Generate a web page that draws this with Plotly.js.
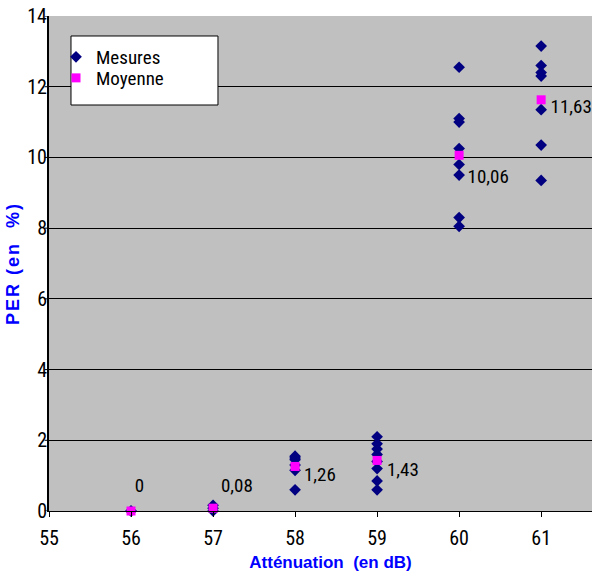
<!DOCTYPE html>
<html><head><meta charset="utf-8">
<script src="https://cdn.plot.ly/plotly-3.0.1.min.js"></script>
<style>
html,body{margin:0;padding:0;background:#fff;}
#chart{width:592px;height:577px;}
#chart text{font-stretch:condensed;}
#chart .g-xtitle text,#chart .g-ytitle text{font-stretch:normal;}
#chart .g-ytitle text{letter-spacing:2px;}
#chart .g-xtitle{transform:translate(10px,3px);}
#chart .g-ytitle{transform:translate(4px,0px) !important;}
#chart .yaxislayer-above{transform:translate(4px,0px);}
</style>
</head><body><div id="chart"></div>
<script>
// Data
const attenuations = [56, 57, 58, 59, 60, 61];
const mesures56 = [0, 0];
const mesures57 = [0, 0.08, 0.16];
const mesures58 = [1.55, 1.5, 1.45, 1.3, 1.15, 0.6];
const mesures59 = [2.1, 1.9, 1.75, 1.6, 1.4, 1.2, 0.85, 0.6];
const mesures60 = [12.55, 11.1, 11.0, 10.25, 9.8, 9.5, 8.3, 8.05];
const mesures61 = [13.15, 12.6, 12.4, 12.3, 11.35, 10.35, 9.35];
const moyennes = [0, 0.08, 1.26, 1.43, 10.06, 11.63];
const moyenneLabels = ["0", "0,08", "1,26", "1,43", "10,06", "11,63"];
const xTicks = [55, 56, 57, 58, 59, 60, 61];
const yTicks = [0, 2, 4, 6, 8, 10, 12, 14];

const mesuresParAtt = [mesures56, mesures57, mesures58, mesures59, mesures60, mesures61];
const mx = [], my = [];
attenuations.forEach((a, i) => mesuresParAtt[i].forEach(v => { mx.push(a); my.push(v); }));

const font = "Roboto, 'DejaVu Sans Condensed', sans-serif";
const titleFont = "'Liberation Sans', Arial, sans-serif";
// label offsets (px): [xshift, yshift]
const labelShift = [[8, 26], [4, 23], [5, -8], [6, -9], [4, -21], [5, -7]];

const traces = [
  {x: mx, y: my, type: 'scatter', mode: 'markers', name: 'Mesures', cliponaxis: false, legend: 'legend',
   marker: {symbol: 'diamond', size: 9, color: '#000080'}},
  {x: attenuations, y: moyennes, type: 'scatter', mode: 'markers', name: 'Moyenne', cliponaxis: false, legend: 'legend2',
   marker: {symbol: 'square', size: 9, color: '#ff00ff'}}
];

const annotations = attenuations.map((a, i) => ({
  x: a, y: moyennes[i], xref: 'x', yref: 'y', text: moyenneLabels[i],
  showarrow: false, xanchor: i === 0 ? 'center' : 'left', yanchor: 'middle',
  xshift: labelShift[i][0], yshift: labelShift[i][1],
  font: {family: font, size: 19, color: '#000'}
}));

// small outside tick marks on the y axis (labels sit right against the axis)
const yTickMarks = yTicks.map(t => ({type: 'line', xref: 'paper', yref: 'y', x0: -0.008, x1: 0, y0: t, y1: t,
  line: {color: '#000', width: 1}, layer: 'above'}));

const legendBase = {xanchor: 'left', yanchor: 'top', bgcolor: 'rgba(0,0,0,0)', borderwidth: 0,
  font: {family: font, size: 19, color: '#000'}, itemwidth: 30};

const layout = {
  width: 592, height: 577,
  margin: {l: 49, r: 0, t: 16, b: 66},
  paper_bgcolor: '#ffffff', plot_bgcolor: '#c0c0c0',
  showlegend: true,
  legend: Object.assign({}, legendBase, {x: 0.0129, y: 0.9556}),
  legend2: Object.assign({}, legendBase, {x: 0.0129, y: 0.9131}),
  shapes: [{type: 'rect', xref: 'paper', yref: 'paper', x0: 0.0405, x1: 0.3112, y0: 0.8202, y1: 0.9596,
    fillcolor: '#ffffff', line: {color: '#000', width: 1}, layer: 'above'}].concat(yTickMarks),
  xaxis: {range: [55, 61.62], tickvals: xTicks, ticktext: xTicks.map(String),
    showgrid: false, zeroline: false, showline: true, linecolor: '#000', linewidth: 1,
    ticks: 'outside', ticklen: 5, tickcolor: '#000', ticklabelstandoff: 4,
    tickfont: {family: font, size: 20, color: '#000'},
    title: {text: 'Atténuation\u00a0 (en dB)', standoff: 4,
      font: {family: titleFont, size: 17, color: '#0000ff', weight: 'bold'}}},
  yaxis: {range: [0, 14], tickvals: yTicks, ticktext: yTicks.map(String),
    showgrid: true, gridcolor: '#000', gridwidth: 1, zeroline: false,
    showline: true, linecolor: '#000', linewidth: 2,
    ticks: '', tickfont: {family: font, size: 20, color: '#000'},
    title: {text: 'PER (en\u00a0 %)', standoff: 0,
      font: {family: titleFont, size: 18, color: '#0000ff', weight: 'bold'}}},
  annotations: annotations
};

Plotly.newPlot('chart', traces, layout, {displayModeBar: false, staticPlot: true});
</script></body></html>
